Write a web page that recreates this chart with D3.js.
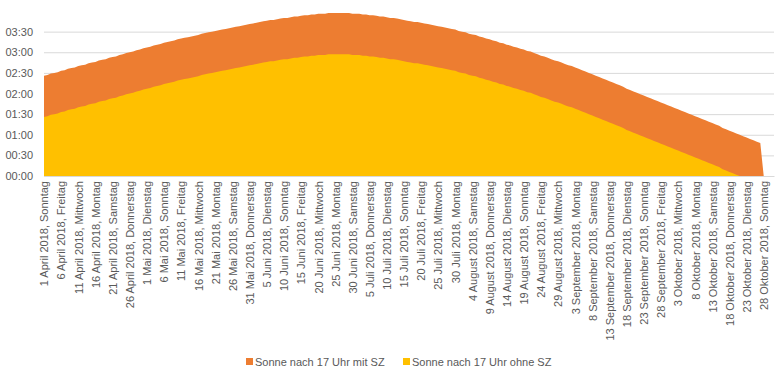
<!DOCTYPE html>
<html>
<head>
<meta charset="utf-8">
<script src="https://cdn.jsdelivr.net/npm/d3@7"></script>
<style>
  body { margin: 0; background: #fff; }
  svg text { font-family: "Liberation Sans", Arial, sans-serif; fill: #595959; }
</style>
</head>
<body>
<div id="chart"></div>
<script>
// Sonne nach 17 Uhr, daily from 1 April 2018 to 31 Oktober 2018 (minutes)
const seriesNames = ["Sonne nach 17 Uhr mit SZ", "Sonne nach 17 Uhr ohne SZ"];

const mitSZ = [
  146,147,149,150,151,153,154,156,157,158,160,161,162,164,165,166,168,169,170,172,173,174,176,177,179,180,181,183,184,186,187,188,190,191,192,194,195,196,197,199,200,201,
  202,203,204,205,207,208,209,210,211,212,213,214,215,216,217,218,219,220,221,222,223,224,
  225,226,227,227,228,229,230,230,231,232,232,233,234,234,235,235,236,236,236,237,237,237,237,237,237,237,236,236,
  236,235,235,234,234,233,232,
  232,231,230,230,229,228,227,
  226,225,224,224,223,222,221,220,
  219,218,217,216,215,214,213,
  211,210,209,207,206,205,203,
  202,200,199,197,196,194,193,191,190,188,187,185,184,
  182,181,179,177,175,174,172,170,168,167,165,163,161,160,158,
  156,154,152,150,148,146,144,142,140,138,136,134,132,130,127,125,123,121,119,117,115,113,111,109,107,105,103,101,99,97,95,93,91,89,87,85,83,81,79,77,75,73,70,68,66,64,62,
  60,58,56,54,52,50,48,0,0,0,0
];

const ohneSZ = [
  86,87,89,90,91,93,94,96,97,98,100,101,102,104,105,106,108,109,110,112,113,114,116,117,119,120,121,123,124,126,127,128,130,131,132,134,135,136,137,139,140,141,
  142,143,144,145,147,148,149,150,151,152,153,154,155,156,157,158,159,160,161,162,163,164,
  165,166,167,167,168,169,170,170,171,172,172,173,174,174,175,175,176,176,176,177,177,177,177,177,177,177,176,176,
  176,175,175,174,174,173,172,
  172,171,170,170,169,168,167,
  166,165,164,164,163,162,161,160,
  159,158,157,156,155,154,153,
  151,150,149,147,146,145,143,
  142,140,139,137,136,134,133,131,130,128,127,125,124,
  122,121,119,117,115,114,112,110,108,107,105,103,101,100,98,
  96,94,92,90,88,86,84,82,80,78,76,74,72,70,67,65,63,61,59,57,55,53,51,49,47,45,43,41,39,37,35,33,31,29,27,25,23,21,19,17,15,13,10,8,6,4,2,
  0,0,0,0,0,0,0,0,0,0,0
];

// every 5th day gets a label
const dayLabels = [
  "1 April 2018, Sonntag", "6 April 2018, Freitag", "11 April 2018, Mittwoch",
  "16 April 2018, Montag", "21 April 2018, Samstag", "26 April 2018, Donnerstag",
  "1 Mai 2018, Dienstag", "6 Mai 2018, Sonntag", "11 Mai 2018, Freitag",
  "16 Mai 2018, Mittwoch", "21 Mai 2018, Montag", "26 Mai 2018, Samstag",
  "31 Mai 2018, Donnerstag", "5 Juni 2018, Dienstag", "10 Juni 2018, Sonntag",
  "15 Juni 2018, Freitag", "20 Juni 2018, Mittwoch", "25 Juni 2018, Montag",
  "30 Juni 2018, Samstag", "5 Juli 2018, Donnerstag", "10 Juli 2018, Dienstag",
  "15 Juli 2018, Sonntag", "20 Juli 2018, Freitag", "25 Juli 2018, Mittwoch",
  "30 Juli 2018, Montag", "4 August 2018, Samstag", "9 August 2018, Donnerstag",
  "14 August 2018, Dienstag", "19 August 2018, Sonntag", "24 August 2018, Freitag",
  "29 August 2018, Mittwoch", "3 September 2018, Montag", "8 September 2018, Samstag",
  "13 September 2018, Donnerstag", "18 September 2018, Dienstag", "23 September 2018, Sonntag",
  "28 September 2018, Freitag", "3 Oktober 2018, Mittwoch", "8 Oktober 2018, Montag",
  "13 Oktober 2018, Samstag", "18 Oktober 2018, Donnerstag", "23 Oktober 2018, Dienstag",
  "28 Oktober 2018, Sonntag"
];
const labelStep = 5;

const yTicks = [0, 30, 60, 90, 120, 150, 180, 210];
const yMax = 240;

const colors = ["#ED7D31", "#FFC000"];

// Chart dimensions
const W = 782, H = 373;
const margin = { top: 11, right: 8, bottom: 197, left: 44 };
const width = W - margin.left - margin.right;
const height = H - margin.top - margin.bottom;

const svg = d3.select("#chart")
  .append("svg")
  .attr("width", W)
  .attr("height", H);

const g = svg.append("g")
  .attr("transform", `translate(${margin.left},${margin.top})`);

const days = d3.range(mitSZ.length);

const x = d3.scalePoint().domain(days).range([0, width]);
const y = d3.scaleLinear().domain([0, yMax]).range([height, 0]);

const fmt = (m) => d3.format("02")(Math.floor(m / 60)) + ":" + d3.format("02")(m % 60);

// Gridlines + y labels
const yAxis = g.append("g")
  .call(d3.axisLeft(y).tickValues(yTicks).tickSize(-width).tickFormat(fmt));
yAxis.select(".domain").remove();
yAxis.selectAll("line").attr("stroke", "#D9D9D9");
yAxis.selectAll("text")
  .attr("x", -11)
  .style("font-size", "11px")
  .style("font-family", "'Liberation Sans', Arial, sans-serif")
  .attr("fill", "#595959");

// Areas (mit SZ behind, ohne SZ in front)
const area = (vals) => d3.area()
  .x((d) => x(d))
  .y0(y(0))
  .y1((d) => y(vals[d]));

[mitSZ, ohneSZ].forEach((vals, i) => {
  g.append("path")
    .datum(days)
    .attr("fill", colors[i])
    .attr("d", area(vals));
});

// X axis labels
const xAxis = g.append("g")
  .attr("transform", `translate(0,${height})`)
  .call(d3.axisBottom(x)
    .tickValues(days.filter((d) => d % labelStep === 0))
    .tickSize(0)
    .tickFormat((d) => dayLabels[d / labelStep]));
xAxis.select(".domain")
  .attr("stroke", "#D9D9D9");
xAxis.selectAll("text")
  .attr("transform", "rotate(-90)")
  .attr("x", -5)
  .attr("y", 0)
  .attr("dy", "0.35em")
  .style("text-anchor", "end")
  .style("font-size", "11px")
  .style("font-family", "'Liberation Sans', Arial, sans-serif")
  .attr("fill", "#595959");

// Legend
const legendX = [246, 403];
const legend = svg.append("g");
seriesNames.forEach((name, i) => {
  legend.append("rect")
    .attr("x", legendX[i])
    .attr("y", 358)
    .attr("width", 7)
    .attr("height", 7)
    .attr("fill", colors[i]);
  legend.append("text")
    .attr("x", legendX[i] + 9)
    .attr("y", 362)
    .attr("dy", "0.35em")
    .style("font-size", "11px")
    .text(name);
});
</script>
</body>
</html>
